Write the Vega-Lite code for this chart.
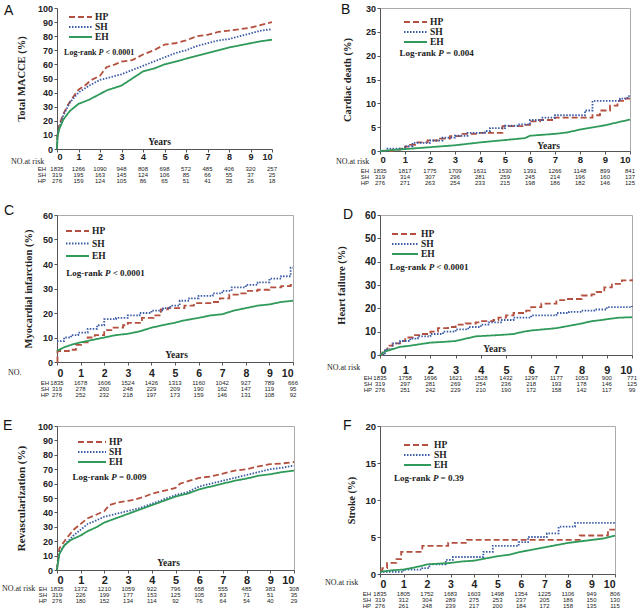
{
"$schema":"https://vega.github.io/schema/vega-lite/v6.json",
"autosize":{"type":"pad"},
"padding":{"left":1,"top":2,"right":0,"bottom":0},
"background":"white",
"columns":2,"align":"none","bounds":"flush",
"spacing":{"row":64,"column":86},
"resolve":{"scale":{"color":"independent","strokeDash":"independent"},"legend":{"color":"independent","strokeDash":"independent"}},
"config":{
 "view":{"stroke":null},
 "axis":{"grid":false,"labelOverlap":false,"domainColor":"#555","tickColor":"#555","tickSize":3,"labelFont":"Liberation Sans","labelFontWeight":"bold","labelColor":"#222","titleFont":"Liberation Serif","titleFontWeight":"bold","titleColor":"#222"},
 "legend":{"orient":"none","symbolType":"stroke","symbolStrokeWidth":2,"clipHeight":10,"rowPadding":0,"labelOffset":2,"labelFont":"Liberation Serif","labelFontWeight":"bold","labelFontSize":9.5,"labelColor":"#222","padding":0},
 "line":{"strokeWidth":1.8},
 "text":{"color":"#222"}
},
"datasets":{
"ann":[{"p":"A","lr":"< 0.0001"},{"p":"B","lr":"= 0.004"},{"p":"C","lr":"< 0.0001"},{"p":"D","lr":"< 0.0001"},{"p":"E","lr":"= 0.009"},{"p":"F","lr":"= 0.39"}],
"km":[
{"p":"A","g":"HP","t":0,"v":0},{"p":"A","g":"HP","t":0.02,"v":10},{"p":"A","g":"HP","t":0.1,"v":17},{"p":"A","g":"HP","t":0.3,"v":25},{"p":"A","g":"HP","t":0.5,"v":31},{"p":"A","g":"HP","t":0.8,"v":38},{"p":"A","g":"HP","t":1,"v":42},{"p":"A","g":"HP","t":1.3,"v":45},{"p":"A","g":"HP","t":1.6,"v":49},{"p":"A","g":"HP","t":2,"v":52},{"p":"A","g":"HP","t":2.3,"v":58},{"p":"A","g":"HP","t":2.7,"v":60},{"p":"A","g":"HP","t":3,"v":62},{"p":"A","g":"HP","t":3.5,"v":63},{"p":"A","g":"HP","t":4,"v":67},{"p":"A","g":"HP","t":4.5,"v":70},{"p":"A","g":"HP","t":5,"v":74},{"p":"A","g":"HP","t":5.5,"v":75},{"p":"A","g":"HP","t":6,"v":77},{"p":"A","g":"HP","t":6.5,"v":80},{"p":"A","g":"HP","t":7,"v":81},{"p":"A","g":"HP","t":7.5,"v":83},{"p":"A","g":"HP","t":8,"v":84},{"p":"A","g":"HP","t":8.5,"v":85},{"p":"A","g":"HP","t":9,"v":86},{"p":"A","g":"HP","t":9.5,"v":88},{"p":"A","g":"HP","t":10,"v":90},
{"p":"A","g":"SH","t":0,"v":0},{"p":"A","g":"SH","t":0.02,"v":10},{"p":"A","g":"SH","t":0.1,"v":15},{"p":"A","g":"SH","t":0.3,"v":24},{"p":"A","g":"SH","t":0.6,"v":33},{"p":"A","g":"SH","t":1,"v":40},{"p":"A","g":"SH","t":1.5,"v":45},{"p":"A","g":"SH","t":2,"v":49},{"p":"A","g":"SH","t":2.5,"v":51},{"p":"A","g":"SH","t":3,"v":53},{"p":"A","g":"SH","t":3.5,"v":56},{"p":"A","g":"SH","t":4,"v":59},{"p":"A","g":"SH","t":4.5,"v":62},{"p":"A","g":"SH","t":5,"v":65},{"p":"A","g":"SH","t":5.5,"v":68},{"p":"A","g":"SH","t":6,"v":70},{"p":"A","g":"SH","t":6.5,"v":73},{"p":"A","g":"SH","t":7,"v":75},{"p":"A","g":"SH","t":7.5,"v":77},{"p":"A","g":"SH","t":8,"v":78},{"p":"A","g":"SH","t":8.5,"v":80},{"p":"A","g":"SH","t":9,"v":82},{"p":"A","g":"SH","t":9.5,"v":84},{"p":"A","g":"SH","t":10,"v":85},
{"p":"A","g":"EH","t":0,"v":0},{"p":"A","g":"EH","t":0.02,"v":8},{"p":"A","g":"EH","t":0.1,"v":14},{"p":"A","g":"EH","t":0.3,"v":21},{"p":"A","g":"EH","t":0.6,"v":27},{"p":"A","g":"EH","t":1,"v":32},{"p":"A","g":"EH","t":1.5,"v":35},{"p":"A","g":"EH","t":2,"v":39},{"p":"A","g":"EH","t":2.3,"v":41.5},{"p":"A","g":"EH","t":2.8,"v":44},{"p":"A","g":"EH","t":3,"v":45},{"p":"A","g":"EH","t":3.5,"v":50},{"p":"A","g":"EH","t":4,"v":55},{"p":"A","g":"EH","t":4.5,"v":57},{"p":"A","g":"EH","t":5,"v":60},{"p":"A","g":"EH","t":5.5,"v":62},{"p":"A","g":"EH","t":6,"v":64},{"p":"A","g":"EH","t":6.5,"v":66},{"p":"A","g":"EH","t":7,"v":68},{"p":"A","g":"EH","t":7.5,"v":70},{"p":"A","g":"EH","t":8,"v":72},{"p":"A","g":"EH","t":8.5,"v":73.5},{"p":"A","g":"EH","t":9,"v":75},{"p":"A","g":"EH","t":9.5,"v":76.5},{"p":"A","g":"EH","t":10,"v":77.5},
{"p":"B","g":"HP","t":0,"v":0},{"p":"B","g":"HP","t":0.5,"v":0.3},{"p":"B","g":"HP","t":0.8,"v":0.5},{"p":"B","g":"HP","t":1,"v":0.9},{"p":"B","g":"HP","t":1.2,"v":1.3},{"p":"B","g":"HP","t":1.4,"v":1.8},{"p":"B","g":"HP","t":1.9,"v":2.2},{"p":"B","g":"HP","t":2.4,"v":2.6},{"p":"B","g":"HP","t":2.8,"v":3.1},{"p":"B","g":"HP","t":3.3,"v":3.6},{"p":"B","g":"HP","t":3.9,"v":3.8},{"p":"B","g":"HP","t":4.9,"v":5.2},{"p":"B","g":"HP","t":5.7,"v":5.5},{"p":"B","g":"HP","t":6,"v":6.2},{"p":"B","g":"HP","t":6.4,"v":6.5},{"p":"B","g":"HP","t":7,"v":7},{"p":"B","g":"HP","t":8.5,"v":7.5},{"p":"B","g":"HP","t":8.8,"v":8.5},{"p":"B","g":"HP","t":9.2,"v":9.5},{"p":"B","g":"HP","t":9.5,"v":10.5},{"p":"B","g":"HP","t":9.8,"v":11},{"p":"B","g":"HP","t":10,"v":11},
{"p":"B","g":"SH","t":0,"v":0},{"p":"B","g":"SH","t":0.3,"v":0.5},{"p":"B","g":"SH","t":1,"v":1},{"p":"B","g":"SH","t":1.3,"v":1.7},{"p":"B","g":"SH","t":2,"v":2.2},{"p":"B","g":"SH","t":2.5,"v":2.8},{"p":"B","g":"SH","t":3,"v":3.2},{"p":"B","g":"SH","t":3.5,"v":3.8},{"p":"B","g":"SH","t":4.2,"v":4.2},{"p":"B","g":"SH","t":4.4,"v":4.8},{"p":"B","g":"SH","t":5,"v":5.3},{"p":"B","g":"SH","t":5.5,"v":5.6},{"p":"B","g":"SH","t":6,"v":6.5},{"p":"B","g":"SH","t":6.5,"v":7},{"p":"B","g":"SH","t":7,"v":7.5},{"p":"B","g":"SH","t":8.2,"v":8.5},{"p":"B","g":"SH","t":8.5,"v":10.5},{"p":"B","g":"SH","t":9.6,"v":11},{"p":"B","g":"SH","t":9.9,"v":11.5},{"p":"B","g":"SH","t":10,"v":11.5},
{"p":"B","g":"EH","t":0,"v":0},{"p":"B","g":"EH","t":0.5,"v":0.2},{"p":"B","g":"EH","t":1,"v":0.4},{"p":"B","g":"EH","t":2,"v":0.8},{"p":"B","g":"EH","t":3,"v":1.2},{"p":"B","g":"EH","t":4,"v":1.8},{"p":"B","g":"EH","t":5,"v":2.3},{"p":"B","g":"EH","t":5.8,"v":2.7},{"p":"B","g":"EH","t":6,"v":3.2},{"p":"B","g":"EH","t":7,"v":3.6},{"p":"B","g":"EH","t":7.5,"v":3.9},{"p":"B","g":"EH","t":8,"v":4.5},{"p":"B","g":"EH","t":9,"v":5.4},{"p":"B","g":"EH","t":9.5,"v":6},{"p":"B","g":"EH","t":10,"v":6.6},
{"p":"C","g":"HP","t":0,"v":0},{"p":"C","g":"HP","t":0.02,"v":4.5},{"p":"C","g":"HP","t":0.5,"v":5},{"p":"C","g":"HP","t":0.8,"v":7},{"p":"C","g":"HP","t":1.1,"v":8},{"p":"C","g":"HP","t":1.3,"v":10},{"p":"C","g":"HP","t":1.6,"v":11},{"p":"C","g":"HP","t":2,"v":13},{"p":"C","g":"HP","t":2.3,"v":14},{"p":"C","g":"HP","t":2.8,"v":15},{"p":"C","g":"HP","t":3,"v":16},{"p":"C","g":"HP","t":3.6,"v":18},{"p":"C","g":"HP","t":4.1,"v":19},{"p":"C","g":"HP","t":4.4,"v":21.5},{"p":"C","g":"HP","t":4.7,"v":22},{"p":"C","g":"HP","t":5.4,"v":23},{"p":"C","g":"HP","t":5.8,"v":24},{"p":"C","g":"HP","t":6.6,"v":24.5},{"p":"C","g":"HP","t":6.9,"v":26},{"p":"C","g":"HP","t":7.3,"v":27.5},{"p":"C","g":"HP","t":7.7,"v":28},{"p":"C","g":"HP","t":8,"v":29},{"p":"C","g":"HP","t":8.5,"v":29.5},{"p":"C","g":"HP","t":9,"v":30.5},{"p":"C","g":"HP","t":9.5,"v":31},{"p":"C","g":"HP","t":9.9,"v":31.5},{"p":"C","g":"HP","t":10,"v":31.5},
{"p":"C","g":"SH","t":0,"v":8.5},{"p":"C","g":"SH","t":0.3,"v":10},{"p":"C","g":"SH","t":0.6,"v":11},{"p":"C","g":"SH","t":0.9,"v":12},{"p":"C","g":"SH","t":1.3,"v":13.5},{"p":"C","g":"SH","t":1.7,"v":15},{"p":"C","g":"SH","t":2,"v":17.5},{"p":"C","g":"SH","t":2.5,"v":18},{"p":"C","g":"SH","t":3,"v":19},{"p":"C","g":"SH","t":3.5,"v":20},{"p":"C","g":"SH","t":4,"v":21},{"p":"C","g":"SH","t":4.5,"v":22},{"p":"C","g":"SH","t":4.8,"v":23},{"p":"C","g":"SH","t":5.2,"v":25},{"p":"C","g":"SH","t":5.6,"v":26},{"p":"C","g":"SH","t":6,"v":27},{"p":"C","g":"SH","t":6.6,"v":28},{"p":"C","g":"SH","t":7,"v":29},{"p":"C","g":"SH","t":7.4,"v":30.5},{"p":"C","g":"SH","t":8,"v":31.5},{"p":"C","g":"SH","t":8.5,"v":32.5},{"p":"C","g":"SH","t":9,"v":34},{"p":"C","g":"SH","t":9.5,"v":35},{"p":"C","g":"SH","t":9.9,"v":38.5},{"p":"C","g":"SH","t":10,"v":38.5},
{"p":"C","g":"EH","t":0,"v":4.5},{"p":"C","g":"EH","t":0.3,"v":6},{"p":"C","g":"EH","t":0.6,"v":7},{"p":"C","g":"EH","t":1,"v":8},{"p":"C","g":"EH","t":1.5,"v":9},{"p":"C","g":"EH","t":2,"v":10},{"p":"C","g":"EH","t":2.5,"v":11},{"p":"C","g":"EH","t":3,"v":11.5},{"p":"C","g":"EH","t":3.5,"v":12.5},{"p":"C","g":"EH","t":4,"v":14},{"p":"C","g":"EH","t":4.7,"v":15.5},{"p":"C","g":"EH","t":5,"v":16},{"p":"C","g":"EH","t":5.4,"v":17},{"p":"C","g":"EH","t":6,"v":18},{"p":"C","g":"EH","t":6.5,"v":19},{"p":"C","g":"EH","t":7,"v":19.5},{"p":"C","g":"EH","t":7.5,"v":21},{"p":"C","g":"EH","t":8,"v":22},{"p":"C","g":"EH","t":8.5,"v":23},{"p":"C","g":"EH","t":9,"v":23.5},{"p":"C","g":"EH","t":9.5,"v":24.5},{"p":"C","g":"EH","t":10,"v":25},
{"p":"D","g":"HP","t":0,"v":0},{"p":"D","g":"HP","t":0.1,"v":2},{"p":"D","g":"HP","t":0.3,"v":4},{"p":"D","g":"HP","t":0.5,"v":5},{"p":"D","g":"HP","t":0.8,"v":6},{"p":"D","g":"HP","t":1,"v":7.5},{"p":"D","g":"HP","t":1.3,"v":8.5},{"p":"D","g":"HP","t":1.6,"v":9},{"p":"D","g":"HP","t":2,"v":10},{"p":"D","g":"HP","t":2.3,"v":11.5},{"p":"D","g":"HP","t":2.7,"v":12},{"p":"D","g":"HP","t":3,"v":13},{"p":"D","g":"HP","t":3.4,"v":13.5},{"p":"D","g":"HP","t":3.8,"v":14},{"p":"D","g":"HP","t":4,"v":14.5},{"p":"D","g":"HP","t":4.5,"v":15},{"p":"D","g":"HP","t":4.7,"v":16},{"p":"D","g":"HP","t":5,"v":17},{"p":"D","g":"HP","t":5.3,"v":18},{"p":"D","g":"HP","t":5.8,"v":19},{"p":"D","g":"HP","t":6,"v":20.5},{"p":"D","g":"HP","t":6.4,"v":22},{"p":"D","g":"HP","t":7,"v":23.5},{"p":"D","g":"HP","t":7.4,"v":24},{"p":"D","g":"HP","t":8,"v":25.5},{"p":"D","g":"HP","t":8.4,"v":26},{"p":"D","g":"HP","t":8.6,"v":27},{"p":"D","g":"HP","t":8.9,"v":29},{"p":"D","g":"HP","t":9.2,"v":30.5},{"p":"D","g":"HP","t":9.6,"v":32},{"p":"D","g":"HP","t":10,"v":32.5},
{"p":"D","g":"SH","t":0,"v":0},{"p":"D","g":"SH","t":0.2,"v":2.5},{"p":"D","g":"SH","t":0.5,"v":5},{"p":"D","g":"SH","t":0.8,"v":6},{"p":"D","g":"SH","t":1.2,"v":7},{"p":"D","g":"SH","t":1.5,"v":8},{"p":"D","g":"SH","t":2,"v":9},{"p":"D","g":"SH","t":2.5,"v":10},{"p":"D","g":"SH","t":3,"v":11},{"p":"D","g":"SH","t":3.5,"v":12},{"p":"D","g":"SH","t":4,"v":13},{"p":"D","g":"SH","t":4.3,"v":14},{"p":"D","g":"SH","t":4.8,"v":15},{"p":"D","g":"SH","t":5.3,"v":16},{"p":"D","g":"SH","t":6,"v":17},{"p":"D","g":"SH","t":7,"v":18},{"p":"D","g":"SH","t":7.5,"v":18.5},{"p":"D","g":"SH","t":8,"v":19},{"p":"D","g":"SH","t":8.5,"v":19.5},{"p":"D","g":"SH","t":9,"v":20.5},{"p":"D","g":"SH","t":10,"v":21},
{"p":"D","g":"EH","t":0,"v":0},{"p":"D","g":"EH","t":0.2,"v":1.5},{"p":"D","g":"EH","t":0.5,"v":2.5},{"p":"D","g":"EH","t":0.8,"v":3.5},{"p":"D","g":"EH","t":1.2,"v":4},{"p":"D","g":"EH","t":1.5,"v":4.5},{"p":"D","g":"EH","t":2,"v":5.3},{"p":"D","g":"EH","t":2.5,"v":5.6},{"p":"D","g":"EH","t":3,"v":6},{"p":"D","g":"EH","t":3.4,"v":7},{"p":"D","g":"EH","t":3.8,"v":8},{"p":"D","g":"EH","t":4.3,"v":8.3},{"p":"D","g":"EH","t":4.8,"v":8.6},{"p":"D","g":"EH","t":5.3,"v":9},{"p":"D","g":"EH","t":5.7,"v":10},{"p":"D","g":"EH","t":6,"v":10.5},{"p":"D","g":"EH","t":6.5,"v":11},{"p":"D","g":"EH","t":7,"v":11.5},{"p":"D","g":"EH","t":7.5,"v":12.5},{"p":"D","g":"EH","t":8,"v":13.5},{"p":"D","g":"EH","t":8.4,"v":14.5},{"p":"D","g":"EH","t":8.8,"v":15},{"p":"D","g":"EH","t":9.1,"v":15.5},{"p":"D","g":"EH","t":9.5,"v":16},{"p":"D","g":"EH","t":10,"v":16.2},
{"p":"E","g":"HP","t":0,"v":0},{"p":"E","g":"HP","t":0.02,"v":5},{"p":"E","g":"HP","t":0.1,"v":15},{"p":"E","g":"HP","t":0.4,"v":22},{"p":"E","g":"HP","t":0.7,"v":28},{"p":"E","g":"HP","t":1,"v":32},{"p":"E","g":"HP","t":1.3,"v":36},{"p":"E","g":"HP","t":1.6,"v":38},{"p":"E","g":"HP","t":2,"v":41},{"p":"E","g":"HP","t":2.2,"v":45},{"p":"E","g":"HP","t":2.6,"v":47},{"p":"E","g":"HP","t":3,"v":48},{"p":"E","g":"HP","t":3.3,"v":49},{"p":"E","g":"HP","t":3.7,"v":51},{"p":"E","g":"HP","t":4,"v":53},{"p":"E","g":"HP","t":4.5,"v":55},{"p":"E","g":"HP","t":5,"v":57},{"p":"E","g":"HP","t":5.2,"v":60},{"p":"E","g":"HP","t":5.6,"v":62},{"p":"E","g":"HP","t":6,"v":64},{"p":"E","g":"HP","t":6.5,"v":65},{"p":"E","g":"HP","t":7,"v":67},{"p":"E","g":"HP","t":7.5,"v":69},{"p":"E","g":"HP","t":8,"v":70},{"p":"E","g":"HP","t":8.5,"v":72},{"p":"E","g":"HP","t":9,"v":73.5},{"p":"E","g":"HP","t":9.5,"v":74},{"p":"E","g":"HP","t":10,"v":75},
{"p":"E","g":"SH","t":0,"v":0},{"p":"E","g":"SH","t":0.02,"v":3},{"p":"E","g":"SH","t":0.1,"v":12},{"p":"E","g":"SH","t":0.4,"v":19},{"p":"E","g":"SH","t":0.7,"v":24},{"p":"E","g":"SH","t":1,"v":28},{"p":"E","g":"SH","t":1.3,"v":32},{"p":"E","g":"SH","t":1.6,"v":34},{"p":"E","g":"SH","t":2,"v":37},{"p":"E","g":"SH","t":2.5,"v":39},{"p":"E","g":"SH","t":3,"v":41},{"p":"E","g":"SH","t":3.5,"v":43},{"p":"E","g":"SH","t":4,"v":46},{"p":"E","g":"SH","t":4.5,"v":49},{"p":"E","g":"SH","t":5,"v":52},{"p":"E","g":"SH","t":5.5,"v":54},{"p":"E","g":"SH","t":6,"v":58},{"p":"E","g":"SH","t":6.5,"v":60},{"p":"E","g":"SH","t":7,"v":62},{"p":"E","g":"SH","t":7.5,"v":64},{"p":"E","g":"SH","t":8,"v":66},{"p":"E","g":"SH","t":8.5,"v":68},{"p":"E","g":"SH","t":9,"v":70},{"p":"E","g":"SH","t":9.5,"v":71},{"p":"E","g":"SH","t":10,"v":72.5},
{"p":"E","g":"EH","t":0,"v":0},{"p":"E","g":"EH","t":0.02,"v":3},{"p":"E","g":"EH","t":0.1,"v":11},{"p":"E","g":"EH","t":0.3,"v":17},{"p":"E","g":"EH","t":0.6,"v":21},{"p":"E","g":"EH","t":1,"v":24},{"p":"E","g":"EH","t":1.3,"v":27},{"p":"E","g":"EH","t":1.7,"v":30},{"p":"E","g":"EH","t":2,"v":33},{"p":"E","g":"EH","t":2.5,"v":36},{"p":"E","g":"EH","t":3,"v":39},{"p":"E","g":"EH","t":3.5,"v":42},{"p":"E","g":"EH","t":4,"v":45},{"p":"E","g":"EH","t":4.5,"v":48},{"p":"E","g":"EH","t":5,"v":51},{"p":"E","g":"EH","t":5.5,"v":53},{"p":"E","g":"EH","t":6,"v":56},{"p":"E","g":"EH","t":6.5,"v":58},{"p":"E","g":"EH","t":7,"v":60},{"p":"E","g":"EH","t":7.5,"v":62},{"p":"E","g":"EH","t":8,"v":63.5},{"p":"E","g":"EH","t":8.5,"v":65.5},{"p":"E","g":"EH","t":9,"v":66.5},{"p":"E","g":"EH","t":9.5,"v":68},{"p":"E","g":"EH","t":10,"v":69},
{"p":"F","g":"HP","t":0,"v":0.5},{"p":"F","g":"HP","t":0.1,"v":0.8},{"p":"F","g":"HP","t":0.3,"v":1.5},{"p":"F","g":"HP","t":0.7,"v":2},{"p":"F","g":"HP","t":0.9,"v":3},{"p":"F","g":"HP","t":1.8,"v":3.8},{"p":"F","g":"HP","t":2.9,"v":4.2},{"p":"F","g":"HP","t":3.7,"v":4.6},{"p":"F","g":"HP","t":8.5,"v":5.2},{"p":"F","g":"HP","t":9.7,"v":6},{"p":"F","g":"HP","t":10,"v":6},
{"p":"F","g":"SH","t":0,"v":0.3},{"p":"F","g":"SH","t":1,"v":0.6},{"p":"F","g":"SH","t":1.8,"v":0.8},{"p":"F","g":"SH","t":2.1,"v":1.3},{"p":"F","g":"SH","t":2.8,"v":1.9},{"p":"F","g":"SH","t":3.1,"v":2.3},{"p":"F","g":"SH","t":4.4,"v":3},{"p":"F","g":"SH","t":4.8,"v":3.8},{"p":"F","g":"SH","t":5.9,"v":4.3},{"p":"F","g":"SH","t":6.3,"v":5},{"p":"F","g":"SH","t":7.1,"v":5.5},{"p":"F","g":"SH","t":7.6,"v":6.4},{"p":"F","g":"SH","t":8.3,"v":6.9},{"p":"F","g":"SH","t":10,"v":6.9},
{"p":"F","g":"EH","t":0,"v":0.3},{"p":"F","g":"EH","t":0.5,"v":0.5},{"p":"F","g":"EH","t":1,"v":0.6},{"p":"F","g":"EH","t":1.5,"v":0.9},{"p":"F","g":"EH","t":2,"v":1.3},{"p":"F","g":"EH","t":2.5,"v":1.4},{"p":"F","g":"EH","t":3,"v":1.5},{"p":"F","g":"EH","t":3.5,"v":1.7},{"p":"F","g":"EH","t":4,"v":1.8},{"p":"F","g":"EH","t":4.5,"v":2.1},{"p":"F","g":"EH","t":5,"v":2.4},{"p":"F","g":"EH","t":5.5,"v":2.6},{"p":"F","g":"EH","t":6,"v":3},{"p":"F","g":"EH","t":6.5,"v":3.3},{"p":"F","g":"EH","t":7,"v":3.6},{"p":"F","g":"EH","t":7.5,"v":3.9},{"p":"F","g":"EH","t":8,"v":4.2},{"p":"F","g":"EH","t":8.5,"v":4.4},{"p":"F","g":"EH","t":9,"v":4.6},{"p":"F","g":"EH","t":9.5,"v":4.8},{"p":"F","g":"EH","t":10,"v":5.2}
],
"risk":[
{"p":"A","g":"EH","t":0,"n":1835},{"p":"A","g":"EH","t":1,"n":1266},{"p":"A","g":"EH","t":2,"n":1090},{"p":"A","g":"EH","t":3,"n":948},{"p":"A","g":"EH","t":4,"n":808},{"p":"A","g":"EH","t":5,"n":698},{"p":"A","g":"EH","t":6,"n":572},{"p":"A","g":"EH","t":7,"n":485},{"p":"A","g":"EH","t":8,"n":406},{"p":"A","g":"EH","t":9,"n":320},{"p":"A","g":"EH","t":10,"n":257},
{"p":"A","g":"SH","t":0,"n":319},{"p":"A","g":"SH","t":1,"n":195},{"p":"A","g":"SH","t":2,"n":163},{"p":"A","g":"SH","t":3,"n":145},{"p":"A","g":"SH","t":4,"n":124},{"p":"A","g":"SH","t":5,"n":106},{"p":"A","g":"SH","t":6,"n":85},{"p":"A","g":"SH","t":7,"n":66},{"p":"A","g":"SH","t":8,"n":55},{"p":"A","g":"SH","t":9,"n":37},{"p":"A","g":"SH","t":10,"n":25},
{"p":"A","g":"HP","t":0,"n":276},{"p":"A","g":"HP","t":1,"n":159},{"p":"A","g":"HP","t":2,"n":124},{"p":"A","g":"HP","t":3,"n":105},{"p":"A","g":"HP","t":4,"n":86},{"p":"A","g":"HP","t":5,"n":65},{"p":"A","g":"HP","t":6,"n":51},{"p":"A","g":"HP","t":7,"n":41},{"p":"A","g":"HP","t":8,"n":35},{"p":"A","g":"HP","t":9,"n":26},{"p":"A","g":"HP","t":10,"n":18},
{"p":"B","g":"EH","t":0,"n":1835},{"p":"B","g":"EH","t":1,"n":1817},{"p":"B","g":"EH","t":2,"n":1775},{"p":"B","g":"EH","t":3,"n":1709},{"p":"B","g":"EH","t":4,"n":1631},{"p":"B","g":"EH","t":5,"n":1530},{"p":"B","g":"EH","t":6,"n":1391},{"p":"B","g":"EH","t":7,"n":1266},{"p":"B","g":"EH","t":8,"n":1148},{"p":"B","g":"EH","t":9,"n":899},{"p":"B","g":"EH","t":10,"n":841},
{"p":"B","g":"SH","t":0,"n":319},{"p":"B","g":"SH","t":1,"n":314},{"p":"B","g":"SH","t":2,"n":307},{"p":"B","g":"SH","t":3,"n":296},{"p":"B","g":"SH","t":4,"n":281},{"p":"B","g":"SH","t":5,"n":259},{"p":"B","g":"SH","t":6,"n":245},{"p":"B","g":"SH","t":7,"n":214},{"p":"B","g":"SH","t":8,"n":196},{"p":"B","g":"SH","t":9,"n":160},{"p":"B","g":"SH","t":10,"n":137},
{"p":"B","g":"HP","t":0,"n":276},{"p":"B","g":"HP","t":1,"n":271},{"p":"B","g":"HP","t":2,"n":263},{"p":"B","g":"HP","t":3,"n":254},{"p":"B","g":"HP","t":4,"n":233},{"p":"B","g":"HP","t":5,"n":215},{"p":"B","g":"HP","t":6,"n":198},{"p":"B","g":"HP","t":7,"n":186},{"p":"B","g":"HP","t":8,"n":182},{"p":"B","g":"HP","t":9,"n":146},{"p":"B","g":"HP","t":10,"n":125},
{"p":"C","g":"EH","t":0,"n":1835},{"p":"C","g":"EH","t":1,"n":1678},{"p":"C","g":"EH","t":2,"n":1606},{"p":"C","g":"EH","t":3,"n":1524},{"p":"C","g":"EH","t":4,"n":1426},{"p":"C","g":"EH","t":5,"n":1313},{"p":"C","g":"EH","t":6,"n":1160},{"p":"C","g":"EH","t":7,"n":1042},{"p":"C","g":"EH","t":8,"n":927},{"p":"C","g":"EH","t":9,"n":789},{"p":"C","g":"EH","t":10,"n":666},
{"p":"C","g":"SH","t":0,"n":319},{"p":"C","g":"SH","t":1,"n":278},{"p":"C","g":"SH","t":2,"n":260},{"p":"C","g":"SH","t":3,"n":248},{"p":"C","g":"SH","t":4,"n":229},{"p":"C","g":"SH","t":5,"n":209},{"p":"C","g":"SH","t":6,"n":190},{"p":"C","g":"SH","t":7,"n":162},{"p":"C","g":"SH","t":8,"n":147},{"p":"C","g":"SH","t":9,"n":119},{"p":"C","g":"SH","t":10,"n":95},
{"p":"C","g":"HP","t":0,"n":276},{"p":"C","g":"HP","t":1,"n":252},{"p":"C","g":"HP","t":2,"n":232},{"p":"C","g":"HP","t":3,"n":218},{"p":"C","g":"HP","t":4,"n":197},{"p":"C","g":"HP","t":5,"n":173},{"p":"C","g":"HP","t":6,"n":159},{"p":"C","g":"HP","t":7,"n":146},{"p":"C","g":"HP","t":8,"n":131},{"p":"C","g":"HP","t":9,"n":108},{"p":"C","g":"HP","t":10,"n":92},
{"p":"D","g":"EH","t":0,"n":1835},{"p":"D","g":"EH","t":1,"n":1758},{"p":"D","g":"EH","t":2,"n":1696},{"p":"D","g":"EH","t":3,"n":1621},{"p":"D","g":"EH","t":4,"n":1528},{"p":"D","g":"EH","t":5,"n":1432},{"p":"D","g":"EH","t":6,"n":1297},{"p":"D","g":"EH","t":7,"n":1177},{"p":"D","g":"EH","t":8,"n":1053},{"p":"D","g":"EH","t":9,"n":900},{"p":"D","g":"EH","t":10,"n":771},
{"p":"D","g":"SH","t":0,"n":319},{"p":"D","g":"SH","t":1,"n":297},{"p":"D","g":"SH","t":2,"n":281},{"p":"D","g":"SH","t":3,"n":269},{"p":"D","g":"SH","t":4,"n":254},{"p":"D","g":"SH","t":5,"n":236},{"p":"D","g":"SH","t":6,"n":218},{"p":"D","g":"SH","t":7,"n":193},{"p":"D","g":"SH","t":8,"n":178},{"p":"D","g":"SH","t":9,"n":146},{"p":"D","g":"SH","t":10,"n":125},
{"p":"D","g":"HP","t":0,"n":276},{"p":"D","g":"HP","t":1,"n":251},{"p":"D","g":"HP","t":2,"n":242},{"p":"D","g":"HP","t":3,"n":229},{"p":"D","g":"HP","t":4,"n":210},{"p":"D","g":"HP","t":5,"n":190},{"p":"D","g":"HP","t":6,"n":172},{"p":"D","g":"HP","t":7,"n":158},{"p":"D","g":"HP","t":8,"n":142},{"p":"D","g":"HP","t":9,"n":117},{"p":"D","g":"HP","t":10,"n":99},
{"p":"E","g":"EH","t":0,"n":1835},{"p":"E","g":"EH","t":1,"n":1372},{"p":"E","g":"EH","t":2,"n":1210},{"p":"E","g":"EH","t":3,"n":1059},{"p":"E","g":"EH","t":4,"n":922},{"p":"E","g":"EH","t":5,"n":796},{"p":"E","g":"EH","t":6,"n":658},{"p":"E","g":"EH","t":7,"n":555},{"p":"E","g":"EH","t":8,"n":485},{"p":"E","g":"EH","t":9,"n":383},{"p":"E","g":"EH","t":10,"n":308},
{"p":"E","g":"SH","t":0,"n":319},{"p":"E","g":"SH","t":1,"n":226},{"p":"E","g":"SH","t":2,"n":199},{"p":"E","g":"SH","t":3,"n":177},{"p":"E","g":"SH","t":4,"n":153},{"p":"E","g":"SH","t":5,"n":125},{"p":"E","g":"SH","t":6,"n":105},{"p":"E","g":"SH","t":7,"n":83},{"p":"E","g":"SH","t":8,"n":71},{"p":"E","g":"SH","t":9,"n":51},{"p":"E","g":"SH","t":10,"n":35},
{"p":"E","g":"HP","t":0,"n":276},{"p":"E","g":"HP","t":1,"n":180},{"p":"E","g":"HP","t":2,"n":152},{"p":"E","g":"HP","t":3,"n":134},{"p":"E","g":"HP","t":4,"n":114},{"p":"E","g":"HP","t":5,"n":92},{"p":"E","g":"HP","t":6,"n":76},{"p":"E","g":"HP","t":7,"n":64},{"p":"E","g":"HP","t":8,"n":54},{"p":"E","g":"HP","t":9,"n":40},{"p":"E","g":"HP","t":10,"n":29},
{"p":"F","g":"EH","t":0,"n":1835},{"p":"F","g":"EH","t":1,"n":1805},{"p":"F","g":"EH","t":2,"n":1752},{"p":"F","g":"EH","t":3,"n":1683},{"p":"F","g":"EH","t":4,"n":1603},{"p":"F","g":"EH","t":5,"n":1498},{"p":"F","g":"EH","t":6,"n":1354},{"p":"F","g":"EH","t":7,"n":1225},{"p":"F","g":"EH","t":8,"n":1106},{"p":"F","g":"EH","t":9,"n":949},{"p":"F","g":"EH","t":10,"n":806},
{"p":"F","g":"SH","t":0,"n":319},{"p":"F","g":"SH","t":1,"n":312},{"p":"F","g":"SH","t":2,"n":304},{"p":"F","g":"SH","t":3,"n":289},{"p":"F","g":"SH","t":4,"n":275},{"p":"F","g":"SH","t":5,"n":253},{"p":"F","g":"SH","t":6,"n":237},{"p":"F","g":"SH","t":7,"n":205},{"p":"F","g":"SH","t":8,"n":186},{"p":"F","g":"SH","t":9,"n":150},{"p":"F","g":"SH","t":10,"n":130},
{"p":"F","g":"HP","t":0,"n":276},{"p":"F","g":"HP","t":1,"n":261},{"p":"F","g":"HP","t":2,"n":248},{"p":"F","g":"HP","t":3,"n":239},{"p":"F","g":"HP","t":4,"n":217},{"p":"F","g":"HP","t":5,"n":200},{"p":"F","g":"HP","t":6,"n":184},{"p":"F","g":"HP","t":7,"n":172},{"p":"F","g":"HP","t":8,"n":158},{"p":"F","g":"HP","t":9,"n":135},{"p":"F","g":"HP","t":10,"n":115}
]
},
"concat":[
{"width":215,"height":141,"resolve":{"scale":{"y":"independent"}},
 "layer":[
  {"layer":[
   {"data":{"name":"km"},"transform":[{"filter":"datum.p=='A'"}],
    "mark":{"type":"line","interpolate":"linear"},
    "encoding":{
     "x":{"field":"t","type":"quantitative","scale":{"domain":[0,10],"nice":false},"axis":{"title":"Years","values":[0,1,2,3,4,5,6,7,8,9,10],"labelFontSize":9,"labelPadding":0,"titleX":102,"titleY":-8,"titleBaseline":"middle","titleFontSize":9.5}},
     "y":{"field":"v","type":"quantitative","scale":{"domain":[0,100],"nice":false},"axis":{"title":"Total  MACCE (%)","values":[0,10,20,30,40,50,60,70,80,90,100],"labelFontSize":9,"labelPadding":1.5,"titleFontSize":10.5,"titlePadding":10.5}},
     "color":{"field":"g","type":"nominal","title":null,"scale":{"domain":["HP","SH","EH"],"range":["#b4503f","#3a5ba8","#2f9a5a"]},"legend":{"legendX":11,"legendY":4,"symbolSize":529}},
     "strokeDash":{"field":"g","type":"nominal","title":null,"scale":{"domain":["HP","SH","EH"],"range":[[6,3],[1.5,1.5],[1,0]]},"legend":{"legendX":11,"legendY":4,"symbolSize":529}}}},
   {"data":{"name":"ann"},"transform":[{"filter":"datum.p=='A'"}],
    "encoding":{"x":{"datum":0.33,"axis":{"title":"Years","values":[0,1,2,3,4,5,6,7,8,9,10],"labelFontSize":9,"labelPadding":0,"titleX":102,"titleY":-8,"titleBaseline":"middle","titleFontSize":9.5}},"y":{"datum":68,"axis":{"title":"Total  MACCE (%)","values":[0,10,20,30,40,50,60,70,80,90,100],"labelFontSize":9,"labelPadding":1.5,"titleFontSize":10.5,"titlePadding":10.5}}},
    "layer":[
     {"mark":{"type":"text","align":"left","baseline":"middle","font":"Liberation Serif","fontWeight":"bold","fontSize":8},"encoding":{"text":{"value":"Log-rank"}}},
     {"mark":{"type":"text","align":"left","baseline":"middle","font":"Liberation Serif","fontWeight":"bold","fontStyle":"italic","fontSize":8,"dx":34.5},"encoding":{"text":{"value":"P"}}},
     {"mark":{"type":"text","align":"left","baseline":"middle","font":"Liberation Serif","fontWeight":"bold","fontSize":8,"dx":41.5},"encoding":{"text":{"field":"lr"}}},
     {"mark":{"type":"text","align":"left","baseline":"top","font":"Liberation Sans","fontSize":14,"dx":-53,"dy":-4,"color":"#111"},"encoding":{"x":{"datum":0,"axis":{"title":"Years","values":[0,1,2,3,4,5,6,7,8,9,10],"labelFontSize":9,"labelPadding":0,"titleX":102,"titleY":-8,"titleBaseline":"middle","titleFontSize":9.5}},"y":{"datum":100,"axis":{"title":"Total  MACCE (%)","values":[0,10,20,30,40,50,60,70,80,90,100],"labelFontSize":9,"labelPadding":1.5,"titleFontSize":10.5,"titlePadding":10.5}},"text":{"field":"p"}}}
    ]}
  ]},
  {"data":{"name":"risk"},"transform":[{"filter":"datum.p=='A'"}],
   "encoding":{"x":{"field":"t","type":"quantitative","axis":{"title":"Years","values":[0,1,2,3,4,5,6,7,8,9,10],"labelFontSize":9,"labelPadding":0,"titleX":102,"titleY":-8,"titleBaseline":"middle","titleFontSize":9.5}},"y":{"field":"g","type":"ordinal","axis":null,"scale":{"type":"point","domain":["EH","SH","HP"],"range":[161,173],"padding":0}}},
   "layer":[
    {"mark":{"type":"text","baseline":"middle","font":"Liberation Sans","fontSize":6},"encoding":{"text":{"field":"n","type":"nominal"}}},
    {"transform":[{"filter":"datum.t==0"}],"mark":{"type":"text","baseline":"middle","align":"right","dx":-11,"font":"Liberation Sans","fontSize":6},"encoding":{"text":{"field":"g"}}},
    {"transform":[{"filter":"datum.t==0 && datum.g=='EH'"}],"mark":{"type":"text","baseline":"middle","align":"left","dx":-46,"dy":-7,"font":"Liberation Serif","fontSize":8},"encoding":{"text":{"value":"NO.at risk"}}}
   ]}
 ]},
{"width":250,"height":143,"view":{"stroke":"#aaa"},"resolve":{"scale":{"y":"independent"}},
 "layer":[
  {"layer":[
   {"data":{"name":"km"},"transform":[{"filter":"datum.p=='B'"}],
    "encoding":{
     "x":{"field":"t","type":"quantitative","scale":{"domain":[0,10],"nice":false},"axis":{"title":"Years","values":[0,1,2,3,4,5,6,7,8,9,10],"labelFontSize":9.5,"labelPadding":0,"titleX":168,"titleY":-6,"titleBaseline":"middle","titleFontSize":9.5}},
     "y":{"field":"v","type":"quantitative","scale":{"domain":[0,30],"nice":false},"axis":{"title":"Cardiac death (%)","values":[0,5,10,15,20,25,30],"labelFontSize":9,"labelPadding":1.5,"titleFontSize":10.5,"titlePadding":12.5}},
     "color":{"field":"g","type":"nominal","title":null,"scale":{"domain":["HP","SH","EH"],"range":["#b4503f","#3a5ba8","#2f9a5a"]},"legend":{"legendX":23,"legendY":9,"symbolSize":529}},
     "strokeDash":{"field":"g","type":"nominal","title":null,"scale":{"domain":["HP","SH","EH"],"range":[[6,3],[1.5,1.5],[1,0]]},"legend":{"legendX":23,"legendY":9,"symbolSize":529}}},
    "layer":[
     {"transform":[{"filter":"datum.g!='EH'"}],"mark":{"type":"line","interpolate":"step-after"}},
     {"transform":[{"filter":"datum.g=='EH'"}],"mark":{"type":"line","interpolate":"linear"}}
    ]},
   {"data":{"name":"ann"},"transform":[{"filter":"datum.p=='B'"}],
    "encoding":{"x":{"datum":0.78,"axis":{"title":"Years","values":[0,1,2,3,4,5,6,7,8,9,10],"labelFontSize":9.5,"labelPadding":0,"titleX":168,"titleY":-6,"titleBaseline":"middle","titleFontSize":9.5}},"y":{"datum":20.5,"axis":{"title":"Cardiac death (%)","values":[0,5,10,15,20,25,30],"labelFontSize":9,"labelPadding":1.5,"titleFontSize":10.5,"titlePadding":12.5}}},
    "layer":[
     {"mark":{"type":"text","align":"left","baseline":"middle","font":"Liberation Serif","fontWeight":"bold","fontSize":9},"encoding":{"text":{"value":"Log-rank"}}},
     {"mark":{"type":"text","align":"left","baseline":"middle","font":"Liberation Serif","fontWeight":"bold","fontStyle":"italic","fontSize":9,"dx":38.8},"encoding":{"text":{"value":"P"}}},
     {"mark":{"type":"text","align":"left","baseline":"middle","font":"Liberation Serif","fontWeight":"bold","fontSize":9,"dx":46.5},"encoding":{"text":{"field":"lr"}}},
     {"mark":{"type":"text","align":"left","baseline":"top","font":"Liberation Sans","fontSize":14,"dx":-39,"dy":-5,"color":"#111"},"encoding":{"x":{"datum":0,"axis":{"title":"Years","values":[0,1,2,3,4,5,6,7,8,9,10],"labelFontSize":9.5,"labelPadding":0,"titleX":168,"titleY":-6,"titleBaseline":"middle","titleFontSize":9.5}},"y":{"datum":30,"axis":{"title":"Cardiac death (%)","values":[0,5,10,15,20,25,30],"labelFontSize":9,"labelPadding":1.5,"titleFontSize":10.5,"titlePadding":12.5}},"text":{"field":"p"}}}
    ]}
  ]},
  {"data":{"name":"risk"},"transform":[{"filter":"datum.p=='B'"}],
   "encoding":{"x":{"field":"t","type":"quantitative","axis":{"title":"Years","values":[0,1,2,3,4,5,6,7,8,9,10],"labelFontSize":9.5,"labelPadding":0,"titleX":168,"titleY":-6,"titleBaseline":"middle","titleFontSize":9.5}},"y":{"field":"g","type":"ordinal","axis":null,"scale":{"type":"point","domain":["EH","SH","HP"],"range":[163,175],"padding":0}}},
   "layer":[
    {"mark":{"type":"text","baseline":"middle","font":"Liberation Sans","fontSize":6},"encoding":{"text":{"field":"n","type":"nominal"}}},
    {"transform":[{"filter":"datum.t==0"}],"mark":{"type":"text","baseline":"middle","align":"right","dx":-11,"font":"Liberation Sans","fontSize":6},"encoding":{"text":{"field":"g"}}},
    {"transform":[{"filter":"datum.t==0 && datum.g=='EH'"}],"mark":{"type":"text","baseline":"middle","align":"left","dx":-44,"dy":-9,"font":"Liberation Serif","fontSize":8},"encoding":{"text":{"value":"NO.at risk"}}}
   ]}
 ]},
{"width":236,"height":147,"view":{"stroke":"#aaa"},"resolve":{"scale":{"y":"independent"}},
 "layer":[
  {"layer":[
   {"data":{"name":"km"},"transform":[{"filter":"datum.p=='C'"}],
    "encoding":{
     "x":{"field":"t","type":"quantitative","scale":{"domain":[0,10],"nice":false},"axis":{"title":"Years","values":[0,1,2,3,4,5,6,7,8,9,10],"labelFontSize":10.5,"labelPadding":3,"titleX":119,"titleY":-8,"titleBaseline":"middle","titleFontSize":9.5}},
     "y":{"field":"v","type":"quantitative","scale":{"domain":[0,60],"nice":false},"axis":{"title":"Myocardial infarction (%)","values":[0,10,20,30,40,50,60],"labelFontSize":9,"labelPadding":1.5,"titleFontSize":10.5,"titlePadding":8.5}},
     "color":{"field":"g","type":"nominal","title":null,"scale":{"domain":["HP","SH","EH"],"range":["#b4503f","#3a5ba8","#2f9a5a"]},"legend":{"legendX":8,"legendY":11,"symbolSize":529,"rowPadding":2.5}},
     "strokeDash":{"field":"g","type":"nominal","title":null,"scale":{"domain":["HP","SH","EH"],"range":[[6,3],[1.5,1.5],[1,0]]},"legend":{"legendX":8,"legendY":11,"symbolSize":529,"rowPadding":2.5}}},
    "layer":[
     {"transform":[{"filter":"datum.g!='EH'"}],"mark":{"type":"line","interpolate":"step-after"}},
     {"transform":[{"filter":"datum.g=='EH'"}],"mark":{"type":"line","interpolate":"linear"}}
    ]},
   {"data":{"name":"ann"},"transform":[{"filter":"datum.p=='C'"}],
    "encoding":{"x":{"datum":0.39,"axis":{"title":"Years","values":[0,1,2,3,4,5,6,7,8,9,10],"labelFontSize":10.5,"labelPadding":3,"titleX":119,"titleY":-8,"titleBaseline":"middle","titleFontSize":9.5}},"y":{"datum":36.3,"axis":{"title":"Myocardial infarction (%)","values":[0,10,20,30,40,50,60],"labelFontSize":9,"labelPadding":1.5,"titleFontSize":10.5,"titlePadding":8.5}}},
    "layer":[
     {"mark":{"type":"text","align":"left","baseline":"middle","font":"Liberation Serif","fontWeight":"bold","fontSize":9},"encoding":{"text":{"value":"Log-rank"}}},
     {"mark":{"type":"text","align":"left","baseline":"middle","font":"Liberation Serif","fontWeight":"bold","fontStyle":"italic","fontSize":9,"dx":38.8},"encoding":{"text":{"value":"P"}}},
     {"mark":{"type":"text","align":"left","baseline":"middle","font":"Liberation Serif","fontWeight":"bold","fontSize":9,"dx":46.5},"encoding":{"text":{"field":"lr"}}},
     {"mark":{"type":"text","align":"left","baseline":"top","font":"Liberation Sans","fontSize":14,"dx":-53,"dy":-11,"color":"#111"},"encoding":{"x":{"datum":0,"axis":{"title":"Years","values":[0,1,2,3,4,5,6,7,8,9,10],"labelFontSize":10.5,"labelPadding":3,"titleX":119,"titleY":-8,"titleBaseline":"middle","titleFontSize":9.5}},"y":{"datum":60,"axis":{"title":"Myocardial infarction (%)","values":[0,10,20,30,40,50,60],"labelFontSize":9,"labelPadding":1.5,"titleFontSize":10.5,"titlePadding":8.5}},"text":{"field":"p"}}}
    ]}
  ]},
  {"data":{"name":"risk"},"transform":[{"filter":"datum.p=='C'"}],
   "encoding":{"x":{"field":"t","type":"quantitative","axis":{"title":"Years","values":[0,1,2,3,4,5,6,7,8,9,10],"labelFontSize":10.5,"labelPadding":3,"titleX":119,"titleY":-8,"titleBaseline":"middle","titleFontSize":9.5}},"y":{"field":"g","type":"ordinal","axis":null,"scale":{"type":"point","domain":["EH","SH","HP"],"range":[168,180],"padding":0}}},
   "layer":[
    {"mark":{"type":"text","baseline":"middle","font":"Liberation Sans","fontSize":6},"encoding":{"text":{"field":"n","type":"nominal"}}},
    {"transform":[{"filter":"datum.t==0"}],"mark":{"type":"text","baseline":"middle","align":"right","dx":-8,"font":"Liberation Sans","fontSize":6},"encoding":{"text":{"field":"g"}}},
    {"transform":[{"filter":"datum.t==0 && datum.g=='EH'"}],"mark":{"type":"text","baseline":"middle","align":"left","dx":-49,"dy":-10,"font":"Liberation Serif","fontSize":8},"encoding":{"text":{"value":"NO."}}}
   ]}
 ]},
{"width":252,"height":140,"view":{"stroke":"#aaa"},"resolve":{"scale":{"y":"independent"}},
 "layer":[
  {"layer":[
   {"data":{"name":"km"},"transform":[{"filter":"datum.p=='D'"}],
    "encoding":{
     "x":{"field":"t","type":"quantitative","scale":{"domain":[0,10],"nice":false},"axis":{"title":"Years","values":[0,1,2,3,4,5,6,7,8,9,10],"labelFontSize":11,"labelPadding":6,"titleX":114,"titleY":-7,"titleBaseline":"middle","titleFontSize":9.5}},
     "y":{"field":"v","type":"quantitative","scale":{"domain":[0,60],"nice":false},"axis":{"title":"Heart failure (%)","values":[0,10,20,30,40,50,60],"labelFontSize":10,"labelPadding":1.5,"titleFontSize":10.5,"titlePadding":17.5}},
     "color":{"field":"g","type":"nominal","title":null,"scale":{"domain":["HP","SH","EH"],"range":["#b4503f","#3a5ba8","#2f9a5a"]},"legend":{"legendX":11,"legendY":14,"symbolSize":676}},
     "strokeDash":{"field":"g","type":"nominal","title":null,"scale":{"domain":["HP","SH","EH"],"range":[[6,3],[1.5,1.5],[1,0]]},"legend":{"legendX":11,"legendY":14,"symbolSize":676}}},
    "layer":[
     {"transform":[{"filter":"datum.g!='EH'"}],"mark":{"type":"line","interpolate":"step-after"}},
     {"transform":[{"filter":"datum.g=='EH'"}],"mark":{"type":"line","interpolate":"linear"}}
    ]},
   {"data":{"name":"ann"},"transform":[{"filter":"datum.p=='D'"}],
    "encoding":{"x":{"datum":0.39,"axis":{"title":"Years","values":[0,1,2,3,4,5,6,7,8,9,10],"labelFontSize":11,"labelPadding":6,"titleX":114,"titleY":-7,"titleBaseline":"middle","titleFontSize":9.5}},"y":{"datum":37.9,"axis":{"title":"Heart failure (%)","values":[0,10,20,30,40,50,60],"labelFontSize":10,"labelPadding":1.5,"titleFontSize":10.5,"titlePadding":17.5}}},
    "layer":[
     {"mark":{"type":"text","align":"left","baseline":"middle","font":"Liberation Serif","fontWeight":"bold","fontSize":9},"encoding":{"text":{"value":"Log-rank"}}},
     {"mark":{"type":"text","align":"left","baseline":"middle","font":"Liberation Serif","fontWeight":"bold","fontStyle":"italic","fontSize":9,"dx":38.8},"encoding":{"text":{"value":"P"}}},
     {"mark":{"type":"text","align":"left","baseline":"middle","font":"Liberation Serif","fontWeight":"bold","fontSize":9,"dx":46.5},"encoding":{"text":{"field":"lr"}}},
     {"mark":{"type":"text","align":"left","baseline":"top","font":"Liberation Sans","fontSize":14,"dx":-37,"dy":-7,"color":"#111"},"encoding":{"x":{"datum":0,"axis":{"title":"Years","values":[0,1,2,3,4,5,6,7,8,9,10],"labelFontSize":11,"labelPadding":6,"titleX":114,"titleY":-7,"titleBaseline":"middle","titleFontSize":9.5}},"y":{"datum":60,"axis":{"title":"Heart failure (%)","values":[0,10,20,30,40,50,60],"labelFontSize":10,"labelPadding":1.5,"titleFontSize":10.5,"titlePadding":17.5}},"text":{"field":"p"}}}
    ]}
  ]},
  {"data":{"name":"risk"},"transform":[{"filter":"datum.p=='D'"}],
   "encoding":{"x":{"field":"t","type":"quantitative","axis":{"title":"Years","values":[0,1,2,3,4,5,6,7,8,9,10],"labelFontSize":11,"labelPadding":6,"titleX":114,"titleY":-7,"titleBaseline":"middle","titleFontSize":9.5}},"y":{"field":"g","type":"ordinal","axis":null,"scale":{"type":"point","domain":["EH","SH","HP"],"range":[163,175],"padding":0}}},
   "layer":[
    {"mark":{"type":"text","baseline":"middle","font":"Liberation Sans","fontSize":6},"encoding":{"text":{"field":"n","type":"nominal"}}},
    {"transform":[{"filter":"datum.t==0"}],"mark":{"type":"text","baseline":"middle","align":"right","dx":-8,"font":"Liberation Sans","fontSize":6},"encoding":{"text":{"field":"g"}}},
    {"transform":[{"filter":"datum.t==0 && datum.g=='EH'"}],"mark":{"type":"text","baseline":"middle","align":"left","dx":-53,"dy":-10,"font":"Liberation Serif","fontSize":8},"encoding":{"text":{"value":"NO.at risk"}}}
   ]}
 ]},
{"width":237,"height":144,"view":{"stroke":"#aaa"},"resolve":{"scale":{"y":"independent"}},
 "layer":[
  {"layer":[
   {"data":{"name":"km"},"transform":[{"filter":"datum.p=='E'"}],
    "mark":{"type":"line","interpolate":"linear"},
    "encoding":{
     "x":{"field":"t","type":"quantitative","scale":{"domain":[0,10],"nice":false},"axis":{"title":"Years","values":[0,1,2,3,4,5,6,7,8,9,10],"labelFontSize":11,"labelPadding":1,"titleX":111,"titleY":-8,"titleBaseline":"middle","titleFontSize":9.5}},
     "y":{"field":"v","type":"quantitative","scale":{"domain":[0,100],"nice":false},"axis":{"title":"Revascularization (%)","values":[0,10,20,30,40,50,60,70,80,90,100],"labelFontSize":9,"labelPadding":1.5,"titleFontSize":11,"titlePadding":10.5}},
     "color":{"field":"g","type":"nominal","title":null,"scale":{"domain":["HP","SH","EH"],"range":["#b4503f","#3a5ba8","#2f9a5a"]},"legend":{"legendX":20,"legendY":11,"symbolSize":784}},
     "strokeDash":{"field":"g","type":"nominal","title":null,"scale":{"domain":["HP","SH","EH"],"range":[[6,3],[1.5,1.5],[1,0]]},"legend":{"legendX":20,"legendY":11,"symbolSize":784}}}},
   {"data":{"name":"ann"},"transform":[{"filter":"datum.p=='E'"}],
    "encoding":{"x":{"datum":0.65,"axis":{"title":"Years","values":[0,1,2,3,4,5,6,7,8,9,10],"labelFontSize":11,"labelPadding":1,"titleX":111,"titleY":-8,"titleBaseline":"middle","titleFontSize":9.5}},"y":{"datum":64.4,"axis":{"title":"Revascularization (%)","values":[0,10,20,30,40,50,60,70,80,90,100],"labelFontSize":9,"labelPadding":1.5,"titleFontSize":11,"titlePadding":10.5}}},
    "layer":[
     {"mark":{"type":"text","align":"left","baseline":"middle","font":"Liberation Serif","fontWeight":"bold","fontSize":9},"encoding":{"text":{"value":"Log-rank"}}},
     {"mark":{"type":"text","align":"left","baseline":"middle","font":"Liberation Serif","fontWeight":"bold","fontStyle":"italic","fontSize":9,"dx":38.8},"encoding":{"text":{"value":"P"}}},
     {"mark":{"type":"text","align":"left","baseline":"middle","font":"Liberation Serif","fontWeight":"bold","fontSize":9,"dx":46.5},"encoding":{"text":{"field":"lr"}}},
     {"mark":{"type":"text","align":"left","baseline":"top","font":"Liberation Sans","fontSize":14,"dx":-54,"dy":-7,"color":"#111"},"encoding":{"x":{"datum":0,"axis":{"title":"Years","values":[0,1,2,3,4,5,6,7,8,9,10],"labelFontSize":11,"labelPadding":1,"titleX":111,"titleY":-8,"titleBaseline":"middle","titleFontSize":9.5}},"y":{"datum":100,"axis":{"title":"Revascularization (%)","values":[0,10,20,30,40,50,60,70,80,90,100],"labelFontSize":9,"labelPadding":1.5,"titleFontSize":11,"titlePadding":10.5}},"text":{"field":"p"}}}
    ]}
  ]},
  {"data":{"name":"risk"},"transform":[{"filter":"datum.p=='E'"}],
   "encoding":{"x":{"field":"t","type":"quantitative","axis":{"title":"Years","values":[0,1,2,3,4,5,6,7,8,9,10],"labelFontSize":11,"labelPadding":1,"titleX":111,"titleY":-8,"titleBaseline":"middle","titleFontSize":9.5}},"y":{"field":"g","type":"ordinal","axis":null,"scale":{"type":"point","domain":["EH","SH","HP"],"range":[163,175],"padding":0}}},
   "layer":[
    {"mark":{"type":"text","baseline":"middle","font":"Liberation Sans","fontSize":6},"encoding":{"text":{"field":"n","type":"nominal"}}},
    {"transform":[{"filter":"datum.t==0"}],"mark":{"type":"text","baseline":"middle","align":"right","dx":-10,"font":"Liberation Sans","fontSize":6},"encoding":{"text":{"field":"g"}}},
    {"transform":[{"filter":"datum.t==0 && datum.g=='EH'"}],"mark":{"type":"text","baseline":"middle","align":"left","dx":-55,"dy":0,"font":"Liberation Serif","fontSize":8},"encoding":{"text":{"value":"NO.at risk"}}}
   ]}
 ]},
{"width":235,"height":148,"view":{"stroke":"#aaa"},"resolve":{"scale":{"y":"independent"}},
 "layer":[
  {"layer":[
   {"data":{"name":"km"},"transform":[{"filter":"datum.p=='F'"}],
    "encoding":{
     "x":{"field":"t","type":"quantitative","scale":{"domain":[0,10],"nice":false},"axis":{"title":null,"values":[0,1,2,3,4,5,6,7,8,9,10],"labelFontSize":10.5,"labelPadding":2}},
     "y":{"field":"v","type":"quantitative","scale":{"domain":[0,20],"nice":false},"axis":{"title":"Stroke (%)","values":[0,5,10,15,20],"labelFontSize":9.5,"labelPadding":1.5,"titleFontSize":10,"titlePadding":8}},
     "color":{"field":"g","type":"nominal","title":null,"scale":{"domain":["HP","SH","EH"],"range":["#b4503f","#3a5ba8","#2f9a5a"]},"legend":{"legendX":23,"legendY":14.5,"symbolSize":729,"clipHeight":9}},
     "strokeDash":{"field":"g","type":"nominal","title":null,"scale":{"domain":["HP","SH","EH"],"range":[[6,3],[1.5,1.5],[1,0]]},"legend":{"legendX":23,"legendY":14.5,"symbolSize":729,"clipHeight":9}}},
    "layer":[
     {"transform":[{"filter":"datum.g!='EH'"}],"mark":{"type":"line","interpolate":"step-after"}},
     {"transform":[{"filter":"datum.g=='EH'"}],"mark":{"type":"line","interpolate":"linear"}}
    ]},
   {"data":{"name":"ann"},"transform":[{"filter":"datum.p=='F'"}],
    "encoding":{"x":{"datum":0.6,"axis":{"title":null,"values":[0,1,2,3,4,5,6,7,8,9,10],"labelFontSize":10.5,"labelPadding":2}},"y":{"datum":13,"axis":{"title":"Stroke (%)","values":[0,5,10,15,20],"labelFontSize":9.5,"labelPadding":1.5,"titleFontSize":10,"titlePadding":8}}},
    "layer":[
     {"mark":{"type":"text","align":"left","baseline":"middle","font":"Liberation Serif","fontWeight":"bold","fontSize":9},"encoding":{"text":{"value":"Log-rank"}}},
     {"mark":{"type":"text","align":"left","baseline":"middle","font":"Liberation Serif","fontWeight":"bold","fontStyle":"italic","fontSize":9,"dx":38.8},"encoding":{"text":{"value":"P"}}},
     {"mark":{"type":"text","align":"left","baseline":"middle","font":"Liberation Serif","fontWeight":"bold","fontSize":9,"dx":46.5},"encoding":{"text":{"field":"lr"}}},
     {"mark":{"type":"text","align":"left","baseline":"top","font":"Liberation Sans","fontSize":14,"dx":-37,"dy":-7,"color":"#111"},"encoding":{"x":{"datum":0,"axis":{"title":null,"values":[0,1,2,3,4,5,6,7,8,9,10],"labelFontSize":10.5,"labelPadding":2}},"y":{"datum":20,"axis":{"title":"Stroke (%)","values":[0,5,10,15,20],"labelFontSize":9.5,"labelPadding":1.5,"titleFontSize":10,"titlePadding":8}},"text":{"field":"p"}}}
    ]}
  ]},
  {"data":{"name":"risk"},"transform":[{"filter":"datum.p=='F'"}],
   "encoding":{"x":{"field":"t","type":"quantitative","axis":{"title":null,"values":[0,1,2,3,4,5,6,7,8,9,10],"labelFontSize":10.5,"labelPadding":2}},"y":{"field":"g","type":"ordinal","axis":null,"scale":{"type":"point","domain":["EH","SH","HP"],"range":[168,180],"padding":0}}},
   "layer":[
    {"mark":{"type":"text","baseline":"middle","font":"Liberation Sans","fontSize":6},"encoding":{"text":{"field":"n","type":"nominal"}}},
    {"transform":[{"filter":"datum.t==0"}],"mark":{"type":"text","baseline":"middle","align":"right","dx":-9,"font":"Liberation Sans","fontSize":6},"encoding":{"text":{"field":"g"}}},
    {"transform":[{"filter":"datum.t==0 && datum.g=='EH'"}],"mark":{"type":"text","baseline":"middle","align":"left","dx":-55,"dy":-11,"font":"Liberation Serif","fontSize":8},"encoding":{"text":{"value":"NO.at risk"}}}
   ]}
 ]}
]
}
